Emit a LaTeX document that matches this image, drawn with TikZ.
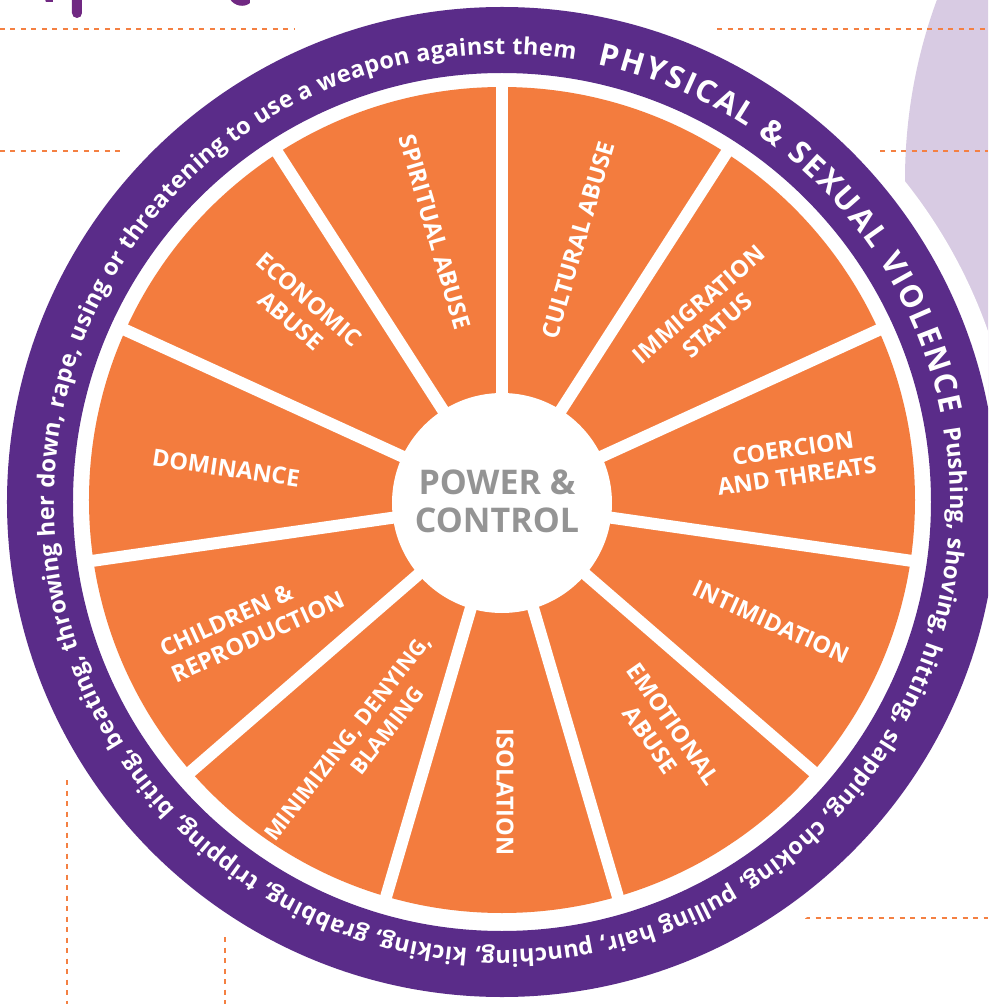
\documentclass[tikz,border=0pt]{standalone}
\usepackage{fontspec}
\setmainfont{Open Sans}
\usetikzlibrary{decorations.text}
\definecolor{ringpurple}{RGB}{90,44,137}
\definecolor{segorange}{RGB}{243,124,62}
\definecolor{dashorange}{RGB}{244,128,66}
\definecolor{lavender}{RGB}{216,203,227}
\definecolor{pcgray}{RGB}{148,148,148}
\definecolor{titlepurple}{RGB}{112,40,130}
\begin{document}
\begin{tikzpicture}[x=1pt,y=1pt,
  seglabel/.style={text=white, font=\bfseries\fontsize{23.5}{28}\selectfont, align=center, inner sep=0pt},
  dashline/.style={draw=dashorange, line width=2.5pt, dash pattern=on 5pt off 5.5pt},
  spoke/.style={draw=white, line width=12pt},
  ringtext/.style={decorate, decoration={text along path, text align=fit to path, text={#1}}}]
\useasboundingbox (-502,-502) rectangle (486,502);
\clip (-502,-502) rectangle (486,502);
\fill[white] (-502,-502) rectangle (486,502);
% lavender background shape
\fill[lavender] (925,322) circle (522);
% dashed guide lines
\draw[dashline] (-502,473) -- (-207,473);
\draw[dashline] (-502,351) -- (-379,351);
\draw[dashline] (215,473) -- (486,473);
\draw[dashline] (378,351) -- (486,351);
\draw[dashline] (-435,-278) -- (-435,-502);
\draw[dashline] (-277,-435) -- (-277,-502);
\draw[dashline] (303,-416) -- (486,-416);
\fill[dashorange] (479.5,-158.5) rectangle (482.5,-161.5);
% cut title descenders
\fill[titlepurple] (-430,503) -- (-430,489) arc[start angle=180, end angle=360, radius=5] -- (-420,503) -- cycle;
\fill[titlepurple] (-272,503) .. controls (-268,496) and (-258,494) .. (-252,499) -- (-252,503) -- cycle;
\fill[titlepurple] (-457,503) -- (-456,500) -- (-449,500) -- (-449,503) -- cycle;
% white halo
\fill[white] (0,0) circle (515);
% purple ring
\fill[ringpurple, even odd rule] (0,0) circle (495) (0,0) circle (429);
% orange wheel
\fill[segorange] (0,2) circle (413);
\foreach \k in {0,...,10} \draw[spoke] (0,0) -- ({90-\k*360/11}:421);
\fill[white] (0,-1) circle (110);
% ring text
\path[ringtext={|\bfseries\fontsize{31}{31}\selectfont\color{white}|PHYSICAL {\&} SEXUAL VIOLENCE}]
  (77.7:448) arc[start angle=77.7, end angle=11.3, radius=448];
\path[ringtext={|\bfseries\fontsize{23.5}{23.5}\selectfont\color{white}|Pushing, shoving, hitting, slapping, choking, pulling hair, punching, kicking, grabbing, tripping, biting, beating, throwing her down, rape, using or threatening to use a weapon against them}]
  (9.5:448) arc[start angle=9.5, end angle=-279.4, radius=448];
% segment labels
\node[seglabel, rotate=-73.6] (spiritual) at (-67,270) {SPIRITUAL ABUSE};
\node[seglabel, rotate=73.6] (cultural) at (76,262) {CULTURAL ABUSE};
\node[seglabel, rotate=40.9] (immigration) at (206,187) {IMMIGRATION\\STATUS};
\node[seglabel, rotate=8.2] (coercion) at (293,40) {COERCION\\AND THREATS};
\node[seglabel, rotate=-24.5] (intimidation) at (269,-120) {INTIMIDATION};
\node[seglabel, rotate=-55] (emotional) at (160,-230) {EMOTIONAL\\ABUSE};
\node[seglabel, rotate=-90] (isolation) at (3,-290) {ISOLATION};
\node[seglabel, rotate=52, font=\bfseries\fontsize{22}{27}\selectfont] (minimizing) at (-144,-244) {MINIMIZING, DENYING,\\\hspace*{60pt}BLAMING};
\node[seglabel, rotate=24.5, align=left] (children) at (-250,-122) {CHILDREN \&\\REPRODUCTION};
\node[seglabel, rotate=-8.2] (dominance) at (-276,34) {DOMINANCE};
\node[seglabel, rotate=-40.9] (economic) at (-202,192) {ECONOMIC\\ABUSE};
\node[text=pcgray, font=\bfseries\fontsize{34}{38}\selectfont, align=center, inner sep=0pt] (center) at (-5,1) {POWER \&\\CONTROL};
\end{tikzpicture}
\end{document}
